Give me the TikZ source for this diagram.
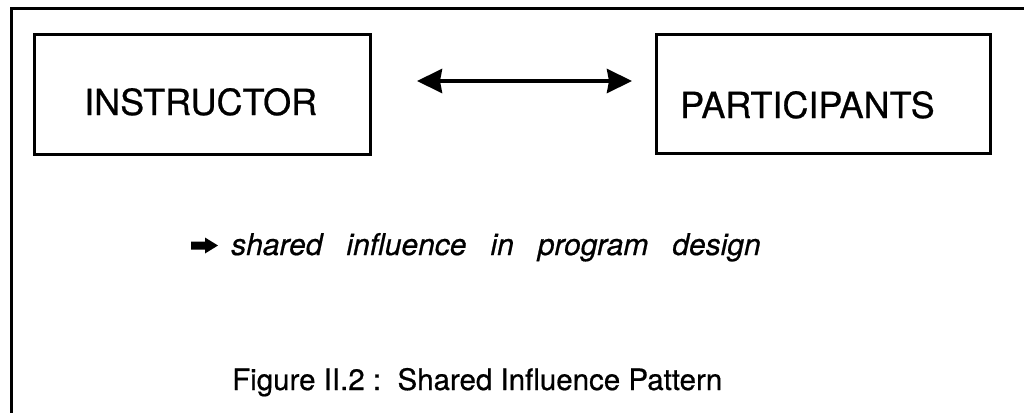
\documentclass[tikz,border=0pt]{standalone}
\usepackage{fontspec}
\setmainfont{TeX Gyre Heros}[FakeBold=0.6]
\usetikzlibrary{arrows.meta}
\newcommand{\wgap}{\hspace{24pt}}
\tikzset{
  frameline/.style={line width=3pt},
  boxnode/.style={draw, line width=3pt, anchor=north west, inner sep=0pt},
  bigtext/.style={anchor=base west, inner sep=0pt, font=\fontsize{36}{40}\selectfont},
  ittext/.style={anchor=base west, inner sep=0pt, font=\fontsize{30}{36}\selectfont\itshape},
  captext/.style={anchor=base west, inner sep=0pt, font=\fontsize{29.5}{34}\selectfont},
  biarrow/.style={line width=4pt, {Stealth[length=25pt,width=24pt,inset=2pt]}-{Stealth[length=25pt,width=24pt,inset=2pt]}}
}
\begin{document}
\begin{tikzpicture}[x=1pt,y=-1pt]
\useasboundingbox (0,0) rectangle (1024,412);
% outer frame (top and left)
\coordinate (ftl) at (11,9);
\coordinate (ftr) at (1026,9);
\coordinate (fbl) at (11,414);
\draw[frameline] (ftr) -- (ftl) -- (fbl);
% boxes
\node[boxnode, minimum width=336pt, minimum height=120pt] (ins) at (33,33) {};
\node[boxnode, minimum width=334pt, minimum height=119pt] (par) at (655,33) {};
\node[bigtext] (inst) at (84,115) {INSTRUCTOR};
\node[bigtext] (part) at (680,118) {PARTICIPANTS};
% double arrow
\coordinate (a1) at (417,81);
\coordinate (a2) at (632,81);
\draw[biarrow] (a1) -- (a2);
% bullet arrow
\fill (191,241.5) -- (205,241.5) -- (205,237.5) -- (218,245.5) -- (205,253.5) -- (205,249.5) -- (191,249.5) -- cycle;
\node[ittext] (shared) at (231,255) {shared\wgap influence\wgap in\wgap program\wgap design};
\node[captext] (cap) at (232,390) {Figure II.2 :\ \ Shared Influence Pattern};
\end{tikzpicture}
\end{document}
